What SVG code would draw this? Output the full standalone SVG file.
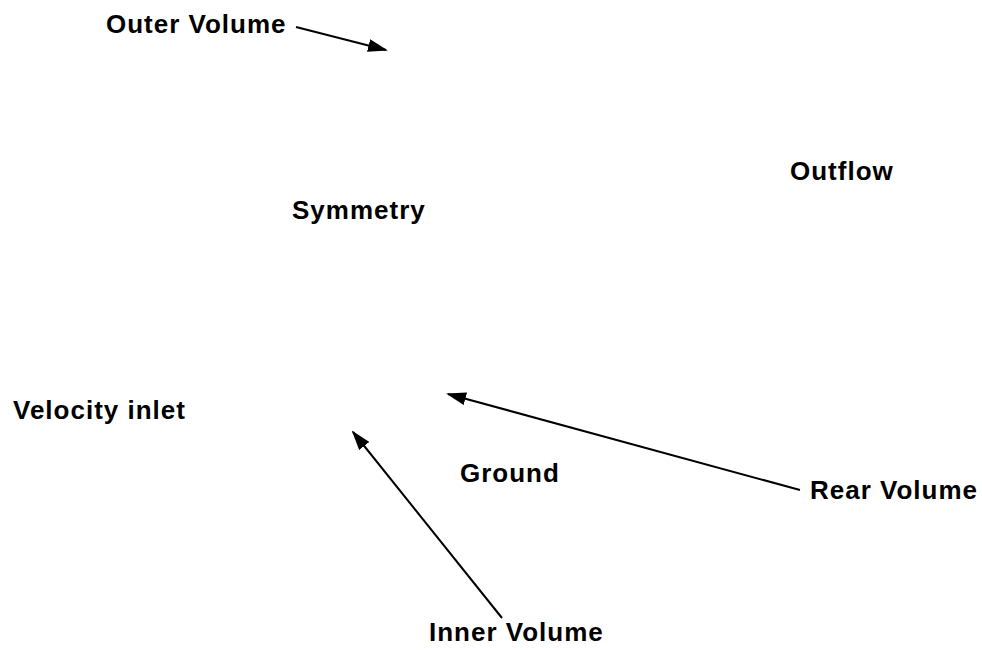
<svg xmlns="http://www.w3.org/2000/svg" width="982" height="650" viewBox="0 0 982 650">
<defs>
<style>
text{font-family:"Liberation Sans",Arial,sans-serif;font-weight:bold;font-size:26px;letter-spacing:1px;fill:#000}
.c{stroke:#000;stroke-width:2;fill:none;marker-end:url(#ah)}
</style>
<marker id="ah" viewBox="0 0 10 10" refX="9" refY="5" markerWidth="20" markerHeight="13" markerUnits="userSpaceOnUse" orient="auto" preserveAspectRatio="none">
<path d="M0,0 L10,5 L0,10 z" fill="#000"/>
</marker>
</defs>
<rect width="982" height="650" fill="#fff"/>
<g id="outer-volume"><text x="106" y="33">Outer Volume</text></g>
<g id="outflow"><text x="790" y="180">Outflow</text></g>
<g id="symmetry"><text x="292" y="219">Symmetry</text></g>
<g id="velocity-inlet"><text x="13" y="419">Velocity inlet</text></g>
<g id="ground"><text x="460" y="482">Ground</text></g>
<g id="rear-volume"><text x="810" y="499">Rear Volume</text></g>
<g id="inner-volume"><text x="429" y="641">Inner Volume</text></g>
<g id="connectors">
<line class="c" x1="296" y1="27" x2="386" y2="50"/>
<line class="c" x1="800" y1="490" x2="448" y2="394"/>
<line class="c" x1="502" y1="618" x2="353" y2="432"/>
</g>
</svg>
